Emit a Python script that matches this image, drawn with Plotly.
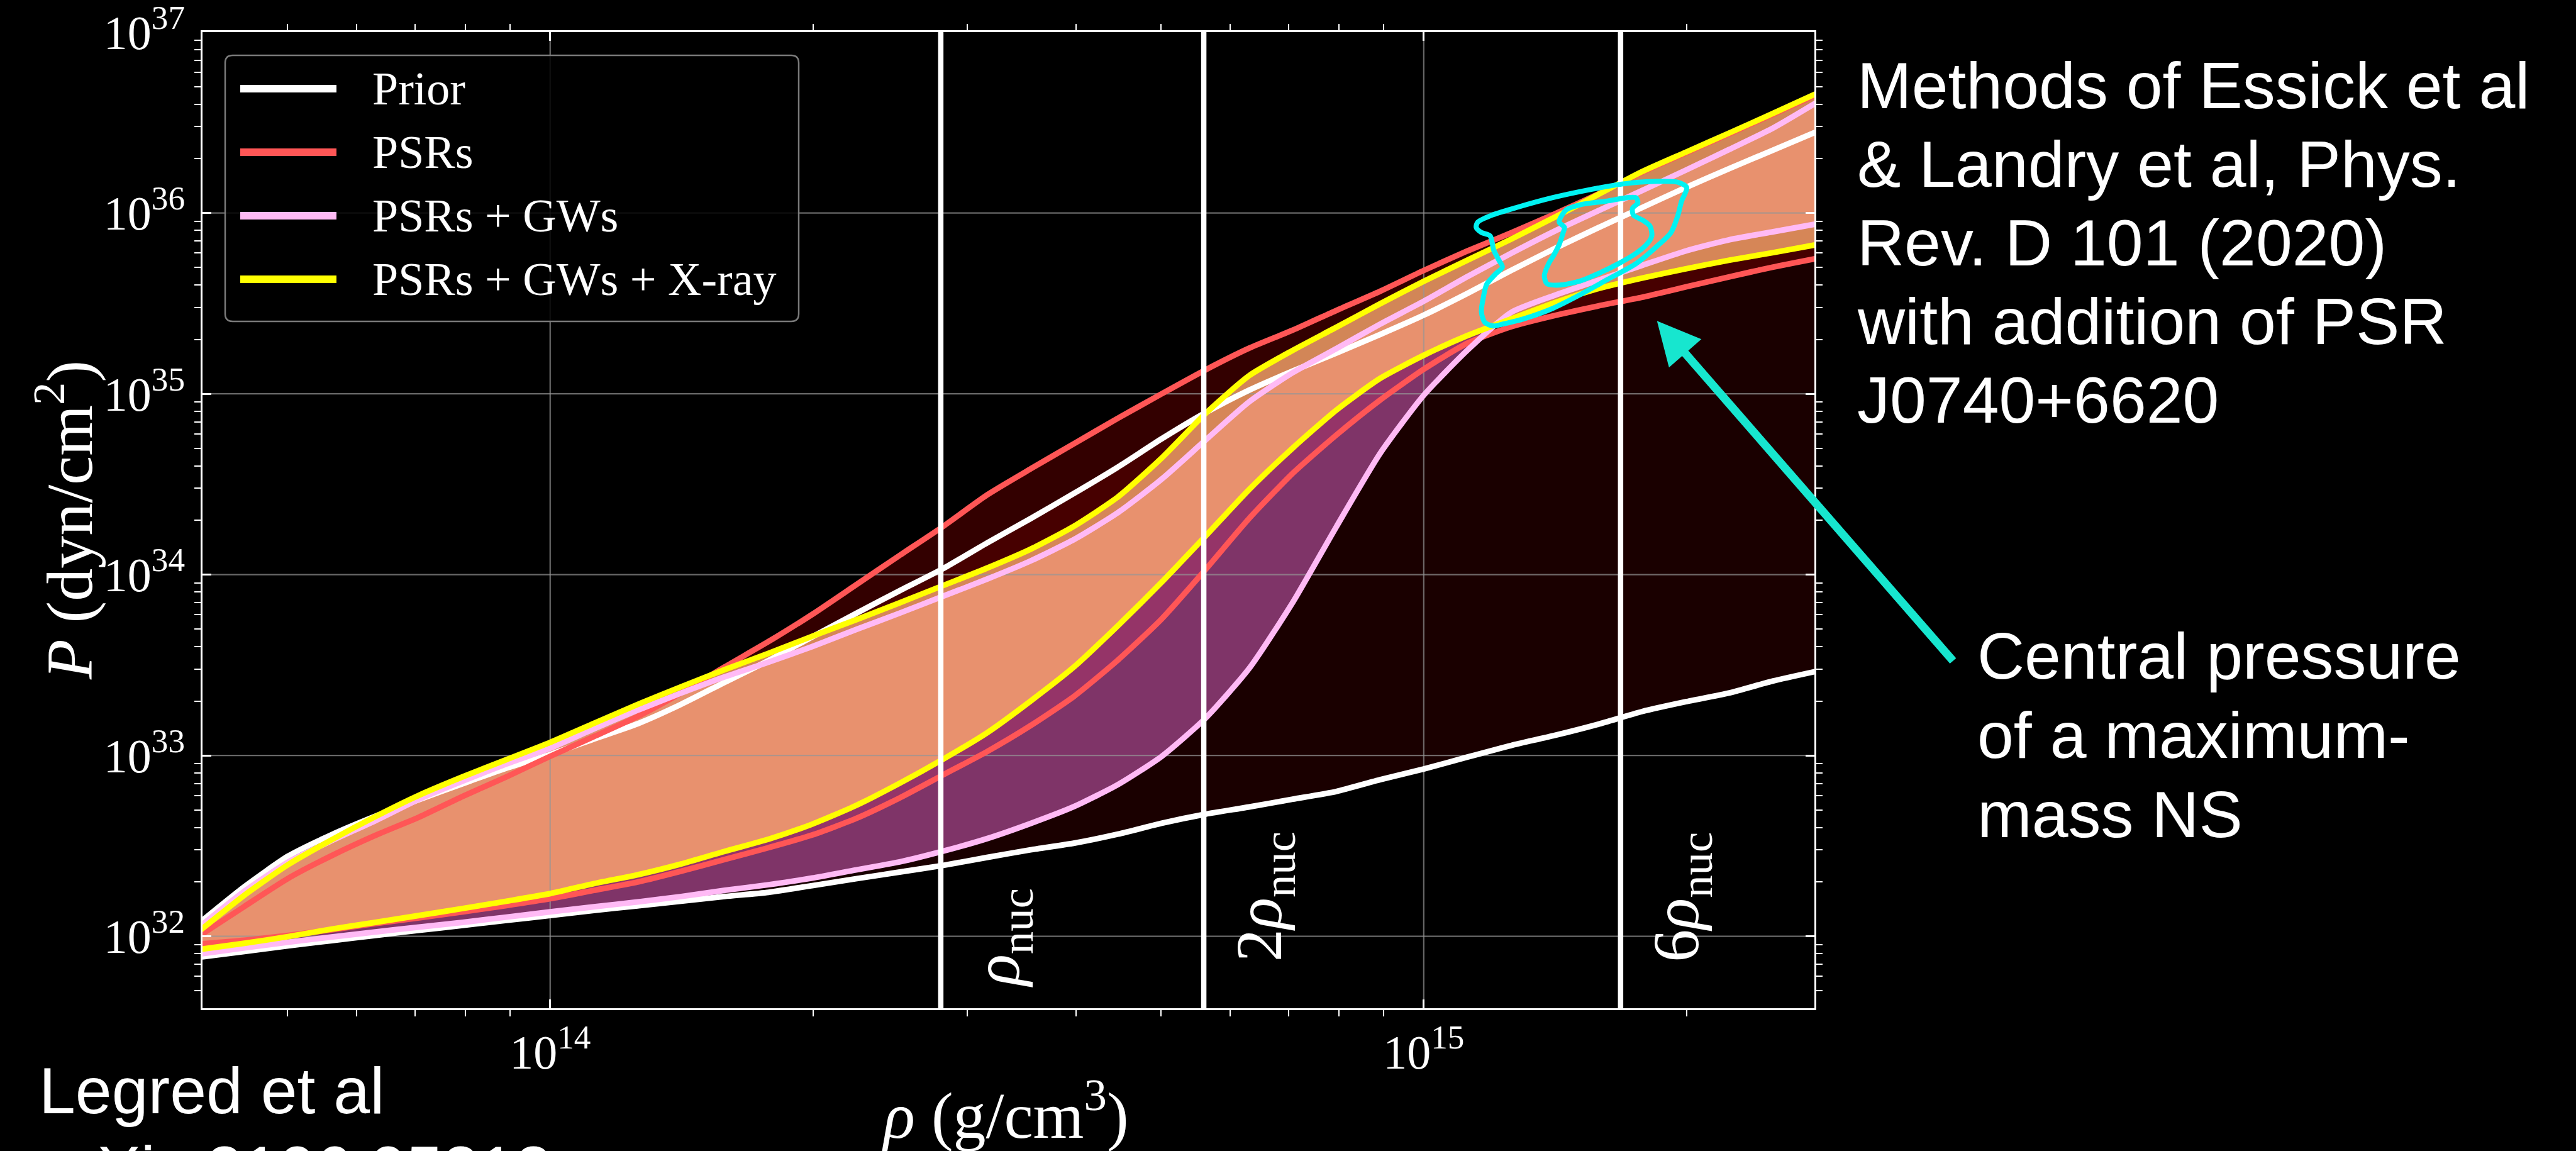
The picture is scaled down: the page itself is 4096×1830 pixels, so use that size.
import numpy as np
import plotly.graph_objects as go

# ---------------------------------------------------------------------------
# Data: log10 of density (g/cm^3) and log10 of pressure (dyn/cm^2) for the
# lower / upper edges of each 90% credible band.
# ---------------------------------------------------------------------------
log_rho = [13.60, 13.65, 13.70, 13.75, 13.80, 13.85, 13.90, 13.95, 14.00, 14.05,
           14.10, 14.15, 14.20, 14.25, 14.30, 14.35, 14.40, 14.45, 14.50, 14.55,
           14.60, 14.65, 14.70, 14.75, 14.80, 14.85, 14.90, 14.95, 15.00, 15.05,
           15.10, 15.15, 15.20, 15.25, 15.30, 15.35, 15.40, 15.45]

prior_lo = [31.885, 31.916, 31.947, 31.976, 32.005, 32.033, 32.060, 32.088, 32.115, 32.143,
            32.168, 32.194, 32.220, 32.243, 32.280, 32.318, 32.355, 32.392, 32.436, 32.478,
            32.515, 32.565, 32.625, 32.675, 32.715, 32.758, 32.801, 32.866, 32.925, 32.991,
            33.055, 33.111, 33.173, 33.243, 33.297, 33.346, 33.412, 33.466]
prior_hi = [32.080, 32.274, 32.443, 32.562, 32.664, 32.756, 32.844, 32.930, 33.005, 33.091,
            33.175, 33.283, 33.405, 33.525, 33.656, 33.785, 33.911, 34.034, 34.175, 34.310,
            34.450, 34.595, 34.751, 34.895, 35.020, 35.126, 35.225, 35.328, 35.435, 35.555,
            35.682, 35.804, 35.919, 36.030, 36.141, 36.246, 36.348, 36.450]

psr_lo = [31.958, 31.978, 32.005, 32.036, 32.071, 32.102, 32.135, 32.170, 32.208, 32.254,
          32.300, 32.360, 32.425, 32.490, 32.560, 32.651, 32.765, 32.893, 33.021, 33.165,
          33.328, 33.528, 33.755, 34.027, 34.310, 34.560, 34.772, 34.965, 35.136, 35.280,
          35.371, 35.433, 35.486, 35.534, 35.591, 35.647, 35.701, 35.749]
psr_hi = [32.007, 32.165, 32.320, 32.446, 32.558, 32.659, 32.774, 32.882, 32.995, 33.104,
          33.215, 33.345, 33.490, 33.630, 33.780, 33.943, 34.106, 34.267, 34.440, 34.585,
          34.725, 34.865, 35.000, 35.132, 35.252, 35.352, 35.461, 35.567, 35.682, 35.790,
          35.890, 35.995, 36.105, 36.225, 36.332, 36.438, 36.546, 36.655]

gw_lo = [31.903, 31.936, 31.967, 31.996, 32.024, 32.051, 32.077, 32.106, 32.135, 32.163,
         32.190, 32.220, 32.254, 32.285, 32.322, 32.367, 32.411, 32.471, 32.540, 32.624,
         32.718, 32.839, 32.995, 33.205, 33.480, 33.846, 34.265, 34.670, 34.992, 35.241,
         35.450, 35.545, 35.628, 35.710, 35.790, 35.852, 35.896, 35.940]
gw_hi = [32.057, 32.249, 32.410, 32.529, 32.639, 32.758, 32.858, 32.953, 33.040, 33.147,
         33.250, 33.345, 33.435, 33.516, 33.602, 33.696, 33.787, 33.881, 33.975, 34.076,
         34.195, 34.343, 34.528, 34.743, 34.955, 35.117, 35.250, 35.385, 35.512, 35.648,
         35.777, 35.900, 36.013, 36.124, 36.237, 36.352, 36.470, 36.612]

xray_lo = [31.928, 31.961, 31.998, 32.040, 32.077, 32.115, 32.154, 32.194, 32.236, 32.291,
           32.340, 32.400, 32.470, 32.537, 32.620, 32.723, 32.846, 32.980, 33.125, 33.301,
           33.491, 33.718, 33.958, 34.212, 34.470, 34.700, 34.910, 35.085, 35.213, 35.322,
           35.414, 35.504, 35.582, 35.640, 35.691, 35.739, 35.781, 35.825]
xray_hi = [32.035, 32.227, 32.396, 32.534, 32.662, 32.780, 32.882, 32.977, 33.072, 33.177,
           33.282, 33.380, 33.475, 33.565, 33.659, 33.750, 33.844, 33.940, 34.036, 34.141,
           34.269, 34.430, 34.645, 34.890, 35.100, 35.240, 35.368, 35.498, 35.622, 35.739,
           35.855, 35.977, 36.103, 36.229, 36.336, 36.443, 36.551, 36.662]

# Central pressure of the maximum-mass star: two credible contours (log10 rho, log10 P)
cpmax_outer_lrho = [15.062, 15.078, 15.106, 15.147, 15.187, 15.227, 15.267, 15.291, 15.301,
                    15.295, 15.291, 15.283, 15.267, 15.243, 15.211, 15.179, 15.147, 15.114,
                    15.090, 15.080, 15.070, 15.066, 15.068, 15.072, 15.082, 15.090, 15.086,
                    15.080, 15.076, 15.066, 15.060, 15.062]
cpmax_outer_lp = [35.950, 35.988, 36.030, 36.084, 36.126, 36.160, 36.175, 36.170, 36.141,
                  36.064, 35.988, 35.892, 35.816, 35.720, 35.634, 35.548, 35.471, 35.414,
                  35.385, 35.375, 35.394, 35.452, 35.528, 35.605, 35.662, 35.701, 35.739,
                  35.796, 35.873, 35.892, 35.921, 35.950]
cpmax_inner_lrho = [15.155, 15.163, 15.179, 15.207, 15.243, 15.245, 15.239, 15.240, 15.251,
                    15.259, 15.261, 15.255, 15.243, 15.223, 15.203, 15.179, 15.155, 15.141,
                    15.138, 15.143, 15.149, 15.155, 15.159, 15.161, 15.155]
cpmax_inner_lp = [35.950, 36.017, 36.045, 36.064, 36.084, 36.055, 36.026, 35.988, 35.959,
                  35.927, 35.873, 35.825, 35.777, 35.720, 35.672, 35.624, 35.601, 35.609,
                  35.653, 35.720, 35.768, 35.825, 35.883, 35.921, 35.950]

# Reference densities (multiples of nuclear saturation density)
rho_nuc = 2.8e14
nuc_multiples = [1, 2, 6]
nuc_labels = ["<i>ρ</i><sub>nuc</sub>", "2<i>ρ</i><sub>nuc</sub>", "6<i>ρ</i><sub>nuc</sub>"]
nuc_label_lp = [31.991, 32.218, 32.218]

legend_names = ["Prior", "PSRs", "PSRs + GWs", "PSRs + GWs + X-ray"]

# ---------------------------------------------------------------------------
# Styling
# ---------------------------------------------------------------------------
FIG_W, FIG_H = 4096, 1830
M_L, M_R, M_T, M_B = 322, 1211, 51, 227
PW, PH = FIG_W - M_L - M_R, FIG_H - M_T - M_B

X_RANGE = (4e13, 2.8e15)
Y_RANGE = (4e31, 1e37)

WHITE = "#ffffff"
RED = "#ff5656"
PINK = "#ffbaf5"
YELLOW = "#ffff00"
CYAN = "#00f2f2"
TURQ = "#17e6cf"
line_colors = [WHITE, RED, PINK, YELLOW]
fill_colors = ["rgba(255,0,0,0.10)", "rgba(255,0,0,0.20)",
               "rgba(228,104,208,0.50)", "rgba(255,172,112,0.78)"]

SERIF = "Liberation Serif, DejaVu Serif, serif"
SANS = "Liberation Sans, Arial, sans-serif"
LW = 9


def px(x):
    """window pixel x -> paper coordinate"""
    return (x - M_L) / PW


def py(y):
    """window pixel y (from top) -> paper coordinate"""
    return (FIG_H - M_B - y) / PH


rho = 10 ** np.array(log_rho)
bands = [(prior_lo, prior_hi), (psr_lo, psr_hi), (gw_lo, gw_hi), (xray_lo, xray_hi)]

fig = go.Figure()

# filled credible regions
for (lo, hi), fc in zip(bands, fill_colors):
    lo_v = 10 ** np.array(lo)
    hi_v = 10 ** np.array(hi)
    fig.add_trace(go.Scatter(
        x=np.concatenate([rho, rho[::-1]]),
        y=np.concatenate([hi_v, lo_v[::-1]]),
        fill="toself", fillcolor=fc, mode="none",
        hoverinfo="skip", showlegend=False))

# grid lines sit above the fills but below the band edges
gx, gy = [], []
for d in range(32, 37):
    gx += [X_RANGE[0], X_RANGE[1], None]
    gy += [10.0 ** d, 10.0 ** d, None]
for d in (14, 15):
    gx += [10.0 ** d, 10.0 ** d, None]
    gy += [Y_RANGE[0], Y_RANGE[1], None]
fig.add_trace(go.Scatter(x=gx, y=gy, mode="lines",
                         line=dict(color="rgba(150,150,150,0.7)", width=2.2),
                         hoverinfo="skip", showlegend=False))

# band edges
for (lo, hi), lc in zip(bands, line_colors):
    for edge in (lo, hi):
        fig.add_trace(go.Scatter(x=rho, y=10 ** np.array(edge), mode="lines",
                                 line=dict(color=lc, width=LW, shape="spline", smoothing=0.6),
                                 hoverinfo="skip", showlegend=False))

# vertical reference densities
for m in nuc_multiples:
    fig.add_trace(go.Scatter(x=[m * rho_nuc, m * rho_nuc], y=list(Y_RANGE), mode="lines",
                             line=dict(color=WHITE, width=8.5),
                             hoverinfo="skip", showlegend=False))

# central-pressure contours
for lr, lp in ((cpmax_outer_lrho, cpmax_outer_lp), (cpmax_inner_lrho, cpmax_inner_lp)):
    fig.add_trace(go.Scatter(x=10 ** np.array(lr), y=10 ** np.array(lp), mode="lines",
                             line=dict(color=CYAN, width=8, shape="spline", smoothing=0.8),
                             hoverinfo="skip", showlegend=False))

# ---------------------------------------------------------------------------
# Axes
# ---------------------------------------------------------------------------
x_minor = [k * 10.0 ** e for e in (13, 14, 15) for k in range(2, 10)
           if X_RANGE[0] <= k * 10.0 ** e <= X_RANGE[1]]
y_minor = [k * 10.0 ** e for e in range(31, 37) for k in range(2, 10)
           if Y_RANGE[0] <= k * 10.0 ** e <= Y_RANGE[1]]
x_major = [1e14, 1e15]
y_major = [10.0 ** d for d in range(32, 38)]

axis_common = dict(
    type="log", showgrid=False, zeroline=False,
    showline=True, linecolor=WHITE, linewidth=2.5, mirror="allticks",
    ticks="inside", ticklen=14, tickwidth=2.5, tickcolor=WHITE,
    tickfont=dict(family=SERIF, size=76, color=WHITE),
    ticklabeloverflow="allow",
)
fig.update_xaxes(
    **axis_common,
    range=[np.log10(X_RANGE[0]), np.log10(X_RANGE[1])],
    tickmode="array", tickvals=x_major,
    ticktext=[f"10<sup>{int(round(np.log10(v)))}</sup>" for v in x_major],
    ticklabelstandoff=2,
    minor=dict(tickmode="array", tickvals=x_minor, ticks="outside",
               ticklen=10, tickwidth=2, tickcolor=WHITE, showgrid=False),
)
fig.update_yaxes(
    **axis_common,
    # a hair above 1e37 so the top decade keeps its label
    range=[np.log10(Y_RANGE[0]), np.log10(Y_RANGE[1]) + 0.0004],
    tickmode="array", tickvals=y_major,
    ticktext=[f"10<sup>{int(round(np.log10(v)))}</sup>" for v in y_major],
    ticklabelstandoff=10,
    minor=dict(tickmode="array", tickvals=y_minor, ticks="outside",
               ticklen=10, tickwidth=2, tickcolor=WHITE, showgrid=False),
)

# ---------------------------------------------------------------------------
# Legend (drawn by hand to get the long line handles and rounded frame)
# ---------------------------------------------------------------------------
shapes = []
bx0, bx1, by0, by1 = px(358), px(1270), py(511), py(88)
rx, ry = 12 / PW, 12 / PH
path = (f"M {bx0+rx},{by0} L {bx1-rx},{by0} Q {bx1},{by0} {bx1},{by0+ry} "
        f"L {bx1},{by1-ry} Q {bx1},{by1} {bx1-rx},{by1} "
        f"L {bx0+rx},{by1} Q {bx0},{by1} {bx0},{by1-ry} "
        f"L {bx0},{by0+ry} Q {bx0},{by0} {bx0+rx},{by0} Z")
shapes.append(dict(type="path", path=path, xref="paper", yref="paper", layer="above",
                   fillcolor="rgba(0,0,0,0.85)", line=dict(color="#7a7a7a", width=2.5)))

annotations = []
for i, (name, col) in enumerate(zip(legend_names, line_colors)):
    yy = py(141 + 101 * i)
    shapes.append(dict(type="line", xref="paper", yref="paper", layer="above",
                       x0=px(382), x1=px(535), y0=yy, y1=yy,
                       line=dict(color=col, width=12)))
    annotations.append(dict(text=name, xref="paper", yref="paper", x=px(590), y=yy,
                            xanchor="left", yanchor="middle", showarrow=False,
                            font=dict(family=SERIF, size=74, color=WHITE)))

# axis titles
annotations.append(dict(text="<i>P</i> (dyn/cm<sup>2</sup>)", xref="paper", yref="paper",
                        x=px(103), y=0.5, textangle=-90, xanchor="center", yanchor="middle",
                        showarrow=False, font=dict(family=SERIF, size=104, color=WHITE)))
annotations.append(dict(text="<i>ρ</i> (g/cm<sup>3</sup>)", xref="paper", yref="paper",
                        x=px(1598), y=py(1766), xanchor="center", yanchor="middle",
                        showarrow=False, font=dict(family=SERIF, size=104, color=WHITE)))

# reference density labels
for m, lab, lp in zip(nuc_multiples, nuc_labels, nuc_label_lp):
    annotations.append(dict(text=lab, xref="x", yref="y", x=np.log10(m * rho_nuc), y=lp,
                            xshift=96, textangle=-90, xanchor="center", yanchor="middle",
                            showarrow=False, font=dict(family=SERIF, size=104, color=WHITE)))

# side notes
note_font = dict(family=SANS, size=104, color=WHITE)
methods_lines = ["Methods of Essick et al", "& Landry et al, Phys.",
                 "Rev. D 101 (2020)", "with addition of PSR", "J0740+6620"]
for i, t in enumerate(methods_lines):
    annotations.append(dict(text=t, xref="paper", yref="paper", x=px(2951),
                            y=py(136 + 125 * i), xanchor="left", yanchor="middle",
                            showarrow=False, font=note_font))
cp_lines = ["Central pressure", "of a maximum-", "mass NS"]
for i, t in enumerate(cp_lines):
    annotations.append(dict(text=t, xref="paper", yref="paper", x=px(3142),
                            y=py(1043 + 126 * i), xanchor="left", yanchor="middle",
                            showarrow=False, font=note_font))
ref_lines = ["Legred et al", "arXiv:2106.05313"]
for i, t in enumerate(ref_lines):
    annotations.append(dict(text=t, xref="paper", yref="paper", x=px(60),
                            y=py(1734 + 125 * i), xanchor="left", yanchor="middle",
                            showarrow=False, font=note_font))

# arrow pointing at the contours
annotations.append(dict(text="", xref="x", yref="y", x=15.267, y=35.403,
                        ax=472, ay=542, showarrow=True, arrowhead=2, arrowsize=1.05,
                        arrowwidth=13, arrowcolor=TURQ, standoff=0))

fig.update_layout(
    width=FIG_W, height=FIG_H,
    margin=dict(l=M_L, r=M_R, t=M_T, b=M_B, autoexpand=False),
    paper_bgcolor="black", plot_bgcolor="black",
    showlegend=False, hovermode=False,
    shapes=shapes, annotations=annotations,
)

fig.write_html("out.html")
